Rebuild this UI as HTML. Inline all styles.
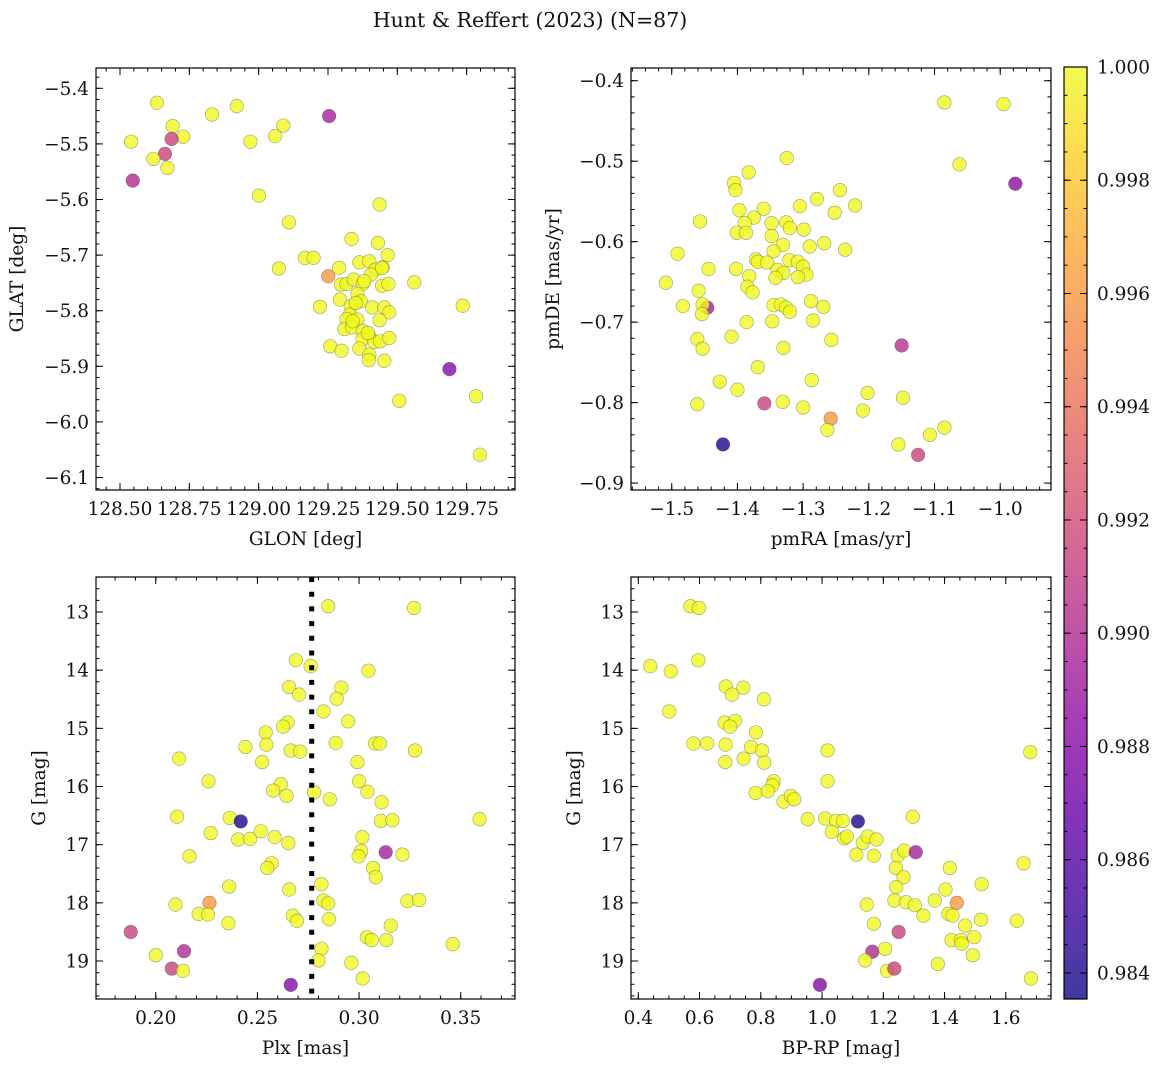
<!DOCTYPE html>
<html><head><meta charset="utf-8"><style>
html,body{margin:0;padding:0;background:#fff;}
svg text{font-family:"DejaVu Serif","Liberation Serif",serif;fill:#111;}
</style></head><body>
<svg id="fig" width="1161" height="1067" viewBox="0 0 1161 1067" xmlns="http://www.w3.org/2000/svg">
<text x="530" y="27" font-size="20.5" text-anchor="middle">Hunt &amp; Reffert (2023) (N=87)</text>
</svg>
<script>
// ---------- data ----------
const p1Glon=[128.633,128.540,128.690,128.728,128.686,128.662,128.620,128.671,128.546,128.832,128.921,128.970,129.059,129.089,129.254,129.001,129.109,129.436,129.335,129.430,129.465,129.073,129.167,129.198,129.251,129.290,129.363,129.399,129.447,129.421,129.405,129.297,129.317,129.343,129.375,129.445,129.468,129.561,129.221,129.293,129.356,129.368,129.332,129.409,129.453,129.471,129.329,129.317,129.356,129.436,129.736,129.309,129.337,129.375,129.399,129.375,129.417,129.438,129.471,129.258,129.299,129.363,129.399,129.397,129.453,129.688,129.507,129.784,129.798,129.381,129.350,129.339,129.394,129.445];
const p1Glat=[-5.426,-5.496,-5.468,-5.487,-5.491,-5.518,-5.527,-5.543,-5.566,-5.447,-5.432,-5.496,-5.486,-5.467,-5.450,-5.593,-5.641,-5.609,-5.671,-5.678,-5.700,-5.724,-5.705,-5.705,-5.738,-5.723,-5.713,-5.711,-5.722,-5.726,-5.735,-5.753,-5.752,-5.744,-5.752,-5.755,-5.752,-5.749,-5.793,-5.780,-5.770,-5.783,-5.792,-5.794,-5.794,-5.803,-5.807,-5.815,-5.816,-5.817,-5.791,-5.833,-5.830,-5.836,-5.846,-5.851,-5.856,-5.855,-5.849,-5.864,-5.872,-5.868,-5.879,-5.889,-5.890,-5.905,-5.962,-5.954,-6.059,-5.747,-5.786,-5.819,-5.840,-5.723];
const p1Prob=[1,1,1,1,0.9915,0.9915,1,1,0.990,1,1,1,1,1,0.9895,1,1,1,1,1,1,1,1,1,0.996,1,1,1,1,1,1,1,1,1,1,1,1,1,1,1,1,1,1,1,1,1,1,1,1,1,1,1,1,1,1,1,1,1,1,1,1,1,1,1,1,0.988,1,1,1,1,1,1,1,1];

const p2Pmra=[-1.085,-0.995,-1.062,-0.977,-1.325,-1.383,-1.405,-1.403,-1.279,-1.244,-1.221,-1.305,-1.252,-1.360,-1.397,-1.457,-1.375,-1.389,-1.348,-1.326,-1.320,-1.299,-1.401,-1.387,-1.348,-1.331,-1.290,-1.268,-1.236,-1.345,-1.491,-1.372,-1.369,-1.355,-1.321,-1.308,-1.300,-1.444,-1.402,-1.339,-1.330,-1.295,-1.382,-1.342,-1.308,-1.509,-1.385,-1.377,-1.459,-1.288,-1.483,-1.446,-1.453,-1.454,-1.269,-1.345,-1.334,-1.326,-1.320,-1.386,-1.347,-1.285,-1.461,-1.409,-1.453,-1.257,-1.330,-1.150,-1.369,-1.427,-1.287,-1.400,-1.202,-1.148,-1.461,-1.359,-1.331,-1.300,-1.209,-1.258,-1.263,-1.085,-1.107,-1.155,-1.422,-1.125];
const p2Pmde=[-0.427,-0.429,-0.504,-0.528,-0.496,-0.514,-0.527,-0.536,-0.547,-0.536,-0.555,-0.556,-0.564,-0.559,-0.561,-0.575,-0.570,-0.577,-0.577,-0.576,-0.583,-0.585,-0.589,-0.589,-0.593,-0.604,-0.606,-0.602,-0.610,-0.612,-0.615,-0.622,-0.625,-0.626,-0.623,-0.625,-0.631,-0.634,-0.634,-0.635,-0.639,-0.641,-0.643,-0.645,-0.644,-0.651,-0.656,-0.663,-0.661,-0.674,-0.680,-0.682,-0.678,-0.690,-0.681,-0.679,-0.678,-0.682,-0.687,-0.700,-0.699,-0.698,-0.721,-0.718,-0.733,-0.722,-0.732,-0.729,-0.756,-0.774,-0.772,-0.784,-0.788,-0.794,-0.802,-0.801,-0.799,-0.806,-0.810,-0.820,-0.834,-0.831,-0.840,-0.852,-0.852,-0.865];
const p2Prob=[1,1,1,0.9885,1,1,1,1,1,1,1,1,1,1,1,1,1,1,1,1,1,1,1,1,1,1,1,1,1,1,1,1,1,1,1,1,1,1,1,1,1,1,1,1,1,1,1,1,1,1,1,0.9895,1,1,1,1,1,1,1,1,1,1,1,1,1,1,1,0.9905,1,1,1,1,1,1,1,0.9915,1,1,1,0.996,1,1,1,1,0.984,0.9915];

const p3Plx=[0.2848,0.3270,0.2689,0.2762,0.3046,0.2656,0.2705,0.2913,0.2890,0.2825,0.2946,0.2648,0.2626,0.2541,0.2544,0.2441,0.2664,0.2710,0.2885,0.3079,0.3102,0.3275,0.2115,0.2523,0.2992,0.2259,0.2615,0.2577,0.2643,0.2779,0.2856,0.3000,0.3041,0.3111,0.2105,0.2364,0.2418,0.3107,0.3164,0.3593,0.2270,0.2405,0.2464,0.2516,0.2585,0.2652,0.3016,0.3010,0.2998,0.3131,0.3213,0.2166,0.2570,0.2548,0.3069,0.3082,0.2361,0.2656,0.2815,0.2097,0.2264,0.2825,0.2848,0.3238,0.3295,0.2211,0.2257,0.2357,0.2674,0.2695,0.2852,0.3156,0.1877,0.3038,0.3062,0.3134,0.3461,0.2139,0.2000,0.2815,0.2800,0.2962,0.2079,0.2134,0.3018,0.2664];
const p3G=[12.90,12.93,13.83,13.93,14.01,14.29,14.42,14.30,14.49,14.71,14.88,14.90,14.97,15.07,15.28,15.32,15.38,15.40,15.25,15.26,15.26,15.38,15.52,15.58,15.58,15.91,15.96,16.07,16.16,16.10,16.22,15.91,16.09,16.27,16.52,16.54,16.60,16.59,16.58,16.56,16.80,16.91,16.90,16.77,16.87,16.97,16.87,17.11,17.20,17.13,17.17,17.20,17.32,17.40,17.40,17.56,17.72,17.77,17.68,18.03,18.00,17.96,18.01,17.97,17.95,18.19,18.20,18.35,18.22,18.31,18.28,18.39,18.50,18.59,18.64,18.64,18.71,18.83,18.90,18.79,18.99,19.03,19.13,19.17,19.30,19.41];
const p3Prob=[1,1,1,1,1,1,1,1,1,1,1,1,1,1,1,1,1,1,1,1,1,1,1,1,1,1,1,1,1,1,1,1,1,1,1,1,0.984,1,1,1,1,1,1,1,1,1,1,1,1,0.9895,1,1,1,1,1,1,1,1,1,1,0.996,1,1,1,1,1,1,1,1,1,1,1,0.9915,1,1,1,1,0.990,1,1,1,1,0.9915,1,1,0.988];
const plxCut=0.2767;

const p4Bprp=[0.570,0.598,0.439,0.506,0.596,0.501,0.686,0.743,0.706,0.810,0.682,0.716,0.700,0.784,0.580,0.625,0.685,0.768,0.804,1.018,1.680,0.684,0.744,0.811,1.018,0.842,0.838,0.783,0.823,0.874,0.898,0.909,0.953,1.010,1.046,1.068,1.117,1.296,1.032,1.072,1.081,1.133,1.149,1.178,1.112,1.169,1.247,1.268,1.306,1.241,1.266,1.417,1.658,1.242,1.403,1.521,1.146,1.236,1.274,1.303,1.368,1.440,1.331,1.412,1.426,1.519,1.636,1.169,1.467,1.250,1.423,1.453,1.456,1.497,1.492,1.164,1.206,1.141,1.378,1.212,1.236,1.682,0.993];
const p4G=[12.90,12.93,13.93,14.02,13.83,14.71,14.28,14.30,14.42,14.50,14.90,14.87,14.97,15.07,15.26,15.26,15.28,15.32,15.38,15.38,15.41,15.58,15.52,15.59,15.91,15.91,15.98,16.11,16.08,16.26,16.16,16.22,16.56,16.55,16.59,16.59,16.60,16.52,16.78,16.89,16.86,16.97,16.86,16.91,17.17,17.19,17.19,17.10,17.13,17.40,17.56,17.40,17.32,17.73,17.77,17.68,18.03,17.96,17.99,18.04,17.96,18.00,18.22,18.19,18.22,18.29,18.31,18.36,18.39,18.50,18.64,18.64,18.70,18.59,18.90,18.84,18.79,18.99,19.05,19.17,19.13,19.30,19.41];
const p4Prob=[1,1,1,1,1,1,1,1,1,1,1,1,1,1,1,1,1,1,1,1,1,1,1,1,1,1,1,1,1,1,1,1,1,1,1,1,0.984,1,1,1,1,1,1,1,1,1,1,1,0.9895,1,1,1,1,1,1,1,1,1,1,1,1,0.996,1,1,1,1,1,1,1,0.9915,1,1,1,1,1,0.990,1,1,1,1,0.9915,1,0.988];

const p1XTicks=[128.50,128.75,129.00,129.25,129.50,129.75];
const p1YTicks=[-5.4,-5.5,-5.6,-5.7,-5.8,-5.9,-6.0,-6.1];
const p2XTicks=[-1.5,-1.4,-1.3,-1.2,-1.1,-1.0];
const p2YTicks=[-0.4,-0.5,-0.6,-0.7,-0.8,-0.9];
const p3XTicks=[0.20,0.25,0.30,0.35];
const gTicks=[13,14,15,16,17,18,19];
const p4XTicks=[0.4,0.6,0.8,1.0,1.2,1.4,1.6];
const cbTicks=[0.984,0.986,0.988,0.990,0.992,0.994,0.996,0.998,1.000];
const vmin=0.98354, vmax=1.0;

// ---------- helpers ----------
const NS='http://www.w3.org/2000/svg';
const svg=document.getElementById('fig');
const FS=18.5;
function mk(tag,attrs,parent){const e=document.createElementNS(NS,tag);for(const k in attrs)e.setAttribute(k,attrs[k]);(parent||svg).appendChild(e);return e;}
const plasmaStops=['#0d0887','#41049d','#6a00a8','#8f0da4','#b12a90','#cc4778','#e16462','#f2844b','#fca636','#fcce25','#f0f921'];
function hex(h){return [parseInt(h.slice(1,3),16),parseInt(h.slice(3,5),16),parseInt(h.slice(5,7),16)];}
function plasma(t){t=Math.max(0,Math.min(1,t));const f=t*10,i=Math.min(9,Math.floor(f)),u=f-i;const a=hex(plasmaStops[i]),b=hex(plasmaStops[i+1]);return 'rgb('+a.map((v,k)=>Math.round(v+(b[k]-v)*u)).join(',')+')';}
function fmt(v,d){return (v<0?'\u2212':'')+Math.abs(v).toFixed(d);}

function panel(cfg){
  const g=mk('g',{});
  
  
  const L=cfg.L,T=cfg.T,R=cfg.R,B=cfg.B;
  const sx=v=>L+(v-cfg.x0)/(cfg.x1-cfg.x0)*(R-L);
  const sy=v=>T+(v-cfg.yT)/(cfg.yB-cfg.yT)*(B-T);
  const cid='clip-'+cfg.name;
  const cp=mk('clipPath',{id:cid},g);mk('rect',{x:L,y:T,width:R-L,height:B-T},cp);
  const pts=mk('g',{'clip-path':'url(#'+cid+')'},g);
  
  
  for(let i=0;i<cfg.xs.length;i++){
    const c=mk('circle',{cx:sx(cfg.xs[i]).toFixed(2),cy:sy(cfg.ys[i]).toFixed(2),r:6.8,fill:plasma((cfg.ps[i]-vmin)/(vmax-vmin)),'fill-opacity':0.8,stroke:'#333','stroke-opacity':0.45,'stroke-width':0.6},pts);
    
    
  }
  if(cfg.vline!==undefined){
    const l=mk('line',{x1:sx(cfg.vline),x2:sx(cfg.vline),y1:T,y2:B,stroke:'#000','stroke-width':5,'stroke-dasharray':'5 9.7'},g);
    
    
  }
  const fr=mk('rect',{x:L,y:T,width:R-L,height:B-T,fill:'none',stroke:'#000','stroke-width':1.2},g);
  
  
  const tk=mk('g',{stroke:'#000','stroke-width':1},g);
  const xa=Math.min(cfg.x0,cfg.x1),xb=Math.max(cfg.x0,cfg.x1);
  for(let v=Math.ceil(xa/cfg.xm-1e-6)*cfg.xm;v<=xb+1e-9;v+=cfg.xm){const x=sx(v);mk('line',{x1:x,x2:x,y1:B,y2:B-3.5},tk);mk('line',{x1:x,x2:x,y1:T,y2:T+3.5},tk);}
  const ya=Math.min(cfg.yT,cfg.yB),yb=Math.max(cfg.yT,cfg.yB);
  for(let v=Math.ceil(ya/cfg.ym-1e-6)*cfg.ym;v<=yb+1e-9;v+=cfg.ym){const y=sy(v);mk('line',{x1:L,x2:L+3.5,y1:y,y2:y},tk);mk('line',{x1:R,x2:R-3.5,y1:y,y2:y},tk);}
  cfg.xt.forEach(v=>{const x=sx(v);mk('line',{x1:x,x2:x,y1:B,y2:B-7},tk);mk('line',{x1:x,x2:x,y1:T,y2:T+7},tk);
    const t=mk('text',{x:x,y:B+25,'font-size':FS,'text-anchor':'middle'},g);t.textContent=fmt(v,cfg.xd);
    
    });
  cfg.yt.forEach(v=>{const y=sy(v);mk('line',{x1:L,x2:L+7,y1:y,y2:y},tk);mk('line',{x1:R,x2:R-7,y1:y,y2:y},tk);
    const t=mk('text',{x:L-7,y:y+6.5,'font-size':FS,'text-anchor':'end'},g);t.textContent=fmt(v,cfg.yd);
    
    });
  const xl=mk('text',{x:(L+R)/2,y:B+55,'font-size':FS,'text-anchor':'middle'},g);xl.textContent=cfg.xlab;
  
  
  const yl=mk('text',{x:0,y:0,'font-size':FS,'text-anchor':'middle',transform:'translate('+cfg.ylx+','+(T+B)/2+') rotate(-90)'},g);yl.textContent=cfg.ylab;
  
  
}

panel({name:'glon-glat-panel',L:96,T:68,R:515,B:490,x0:128.4134,x1:129.9244,yT:-5.3635,yB:-6.1224,xs:p1Glon,ys:p1Glat,ps:p1Prob,xt:p1XTicks,yt:p1YTicks,xm:0.05,ym:0.02,xd:2,yd:1,xlab:'GLON [deg]',ylab:'GLAT [deg]',ylx:23});
panel({name:'pm-panel',L:631,T:68,R:1051,B:490,x0:-1.5620,x1:-0.9227,yT:-0.3842,yB:-0.9086,xs:p2Pmra,ys:p2Pmde,ps:p2Prob,xt:p2XTicks,yt:p2YTicks,xm:0.02,ym:0.02,xd:1,yd:1,xlab:'pmRA [mas/yr]',ylab:'pmDE [mas/yr]',ylx:559});
panel({name:'plx-g-panel',L:96,T:577,R:515,B:999,x0:0.1706,x1:0.3767,yT:12.398,yB:19.653,xs:p3Plx,ys:p3G,ps:p3Prob,xt:p3XTicks,yt:gTicks,xm:0.01,ym:0.2,xd:2,yd:0,xlab:'Plx [mas]',ylab:'G [mag]',ylx:45});
panel({name:'cmd-panel',L:631,T:577,R:1051,B:999,x0:0.3762,x1:1.7475,yT:12.398,yB:19.653,xs:p4Bprp,ys:p4G,ps:p4Prob,xt:p4XTicks,yt:gTicks,xm:0.05,ym:0.2,xd:1,yd:0,xlab:'BP-RP [mag]',ylab:'G [mag]',ylx:580});

// fix: vertical cut line for plx panel
(function(){
  const L=96,R=515,T=577,B=999,x0=0.1706,x1=0.3767;
  const x=L+(plxCut-x0)/(x1-x0)*(R-L);
  const l=mk('line',{x1:x,x2:x,y1:T,y2:B,stroke:'#000','stroke-width':5,'stroke-dasharray':'5 9.7'});
  
  
})();

// colorbar
(function(){
  const L=1064,R=1087,T=67,B=999;
  const g=mk('g',{});
  
  
  const defs=mk('defs',{},g);
  const lg=mk('linearGradient',{id:'cbgrad',x1:0,y1:1,x2:0,y2:0},defs);
  for(let i=0;i<=20;i++){mk('stop',{offset:(i/20),'stop-color':plasma(i/20)},lg);}
  mk('rect',{x:L,y:T,width:R-L,height:B-T,fill:'url(#cbgrad)','fill-opacity':0.8},g);
  mk('rect',{x:L,y:T,width:R-L,height:B-T,fill:'none',stroke:'#000','stroke-width':1.2},g);
  const sy=v=>B-(v-vmin)/(vmax-vmin)*(B-T);
  for(let v=0.9840;v<=1.00001;v+=0.0005){const y=sy(v);mk('line',{x1:R,x2:R-3.5,y1:y,y2:y,stroke:'#000'},g);mk('line',{x1:L,x2:L+3.5,y1:y,y2:y,stroke:'#000'},g);}
  cbTicks.forEach(v=>{const y=sy(v);mk('line',{x1:R,x2:R-7,y1:y,y2:y,stroke:'#000'},g);mk('line',{x1:L,x2:L+7,y1:y,y2:y,stroke:'#000'},g);
    const t=mk('text',{x:R+10,y:y+6.5,'font-size':FS},g);t.textContent=v.toFixed(3);
    
    });
})();
</script>
</body></html>
